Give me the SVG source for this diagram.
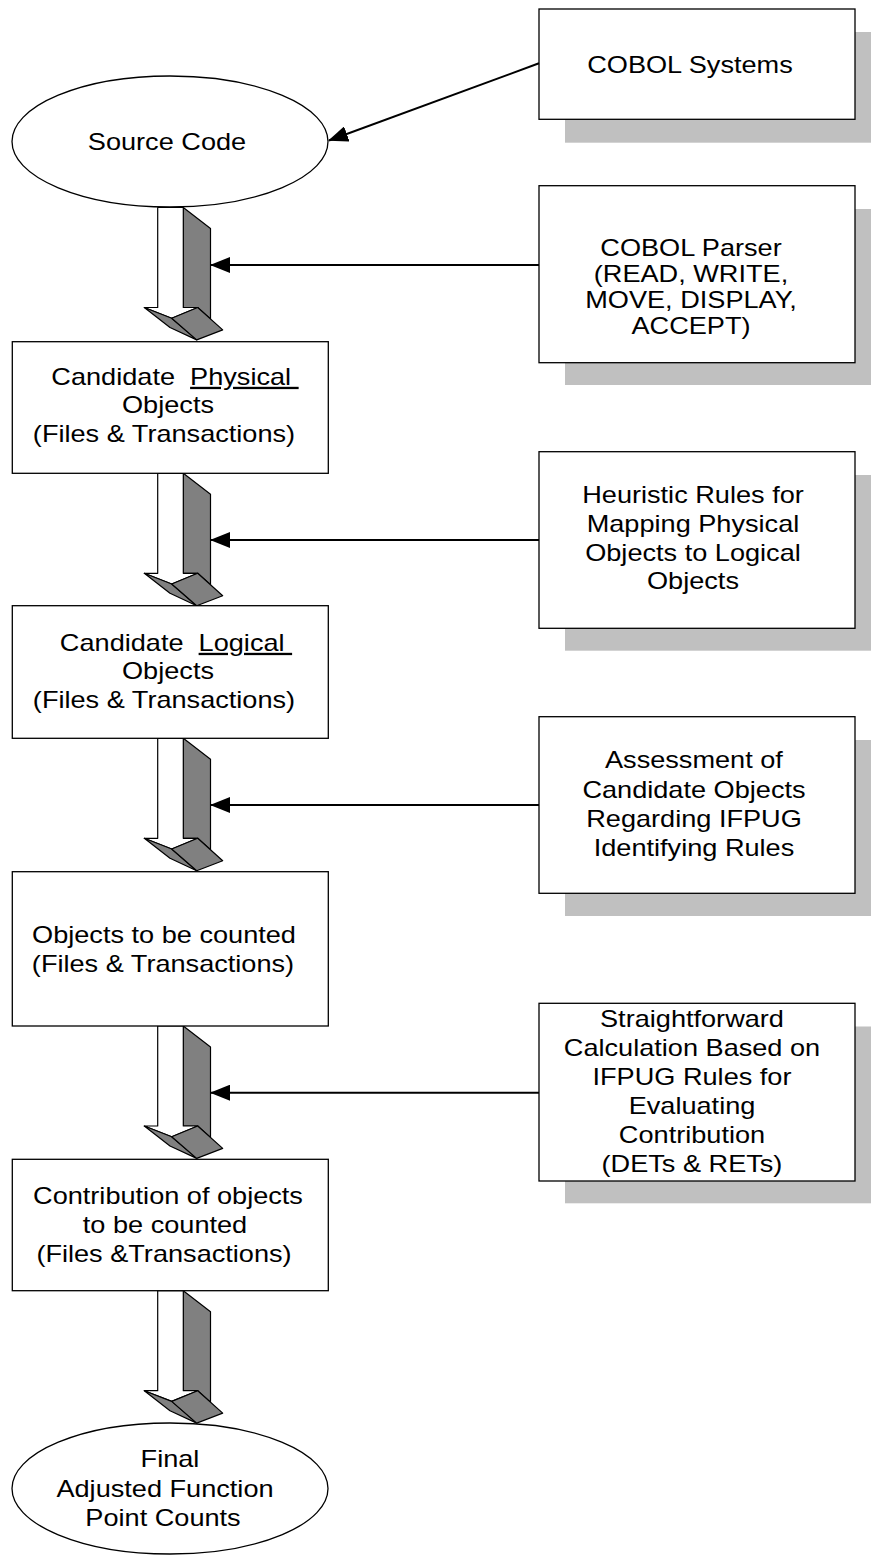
<svg xmlns="http://www.w3.org/2000/svg" width="871" height="1555" viewBox="0 0 871 1555">
<style>
.box{fill:#fff;stroke:#000;stroke-width:1.3}
.shadow{fill:#c0c0c0;stroke:none}
.t{font-family:"Liberation Sans",Arial,sans-serif;font-size:23px;fill:#000;text-anchor:middle;transform-box:fill-box;transform-origin:center;transform:scaleX(1.18)}
.con{stroke:#000;stroke-width:2;fill:none;marker-end:url(#ah)}
.gray{fill:#808080;stroke:#000;stroke-width:1.2;stroke-linejoin:round}
.white{fill:#fff;stroke:#000;stroke-width:1.2;stroke-linejoin:round}
</style>
<defs>
<marker id="ah" viewBox="0 0 20 16" refX="19" refY="8" markerWidth="20" markerHeight="16" markerUnits="userSpaceOnUse" orient="auto">
<path d="M0,0 L20,8 L0,16 z" fill="#000"/>
</marker>
<g id="bigArrow">
<polygon class="gray" points="183.3,0 210.5,21 210.5,111.5 197.7,100 183.3,100"/>
<polygon class="white" points="157.7,0 183.3,0 183.3,100 197.7,100 171.7,110.7 144.3,100 157.7,100"/>
<polygon class="gray" points="144.3,100 171.7,110.7 196.7,132.4 170,120"/>
<polygon class="gray" points="171.7,110.7 197.7,100 222.7,122.4 196.7,132.4"/>
</g>
</defs>

<g id="flow-arrows">
<use href="#bigArrow" y="207.5"/>
<use href="#bigArrow" y="473.3"/>
<use href="#bigArrow" y="738.3"/>
<use href="#bigArrow" y="1026"/>
<use href="#bigArrow" y="1290.7"/>
</g>

<g id="source-code">
<ellipse class="box" cx="170" cy="141.5" rx="158" ry="65.5"/>
<text class="t" x="167" y="150">Source Code</text>
</g>

<g id="candidate-physical">
<rect class="box" x="12.3" y="341.7" width="316" height="131.6"/>
<text class="t" x="175" y="385">Candidate&#160;&#160;<tspan text-decoration="underline">Physical&#160;</tspan></text>
<text class="t" x="168" y="413.5">Objects</text>
<text class="t" x="164" y="442">(Files &amp; Transactions)</text>
</g>

<g id="candidate-logical">
<rect class="box" x="12.3" y="605.7" width="316" height="132.6"/>
<text class="t" x="176" y="651">Candidate&#160;&#160;<tspan text-decoration="underline">Logical&#160;</tspan></text>
<text class="t" x="168" y="679.5">Objects</text>
<text class="t" x="164" y="708">(Files &amp; Transactions)</text>
</g>

<g id="objects-counted">
<rect class="box" x="12.3" y="871.7" width="316" height="154.3"/>
<text class="t" x="164" y="943.5">Objects to be counted</text>
<text class="t" x="163" y="972">(Files &amp; Transactions)</text>
</g>

<g id="contribution">
<rect class="box" x="12.3" y="1159.3" width="316" height="131.4"/>
<text class="t" x="168" y="1204">Contribution of objects</text>
<text class="t" x="165" y="1233">to be counted</text>
<text class="t" x="164" y="1261.7">(Files &amp;Transactions)</text>
</g>

<g id="final-counts">
<ellipse class="box" cx="170" cy="1488.5" rx="158" ry="65.5"/>
<text class="t" x="170" y="1467">Final</text>
<text class="t" x="165" y="1497.5">Adjusted Function</text>
<text class="t" x="163" y="1526.5">Point Counts</text>
</g>

<g id="cobol-systems">
<rect class="shadow" x="565" y="32" width="316" height="110.7"/>
<rect class="box" x="539" y="9" width="316" height="110.3"/>
<text class="t" x="690" y="73">COBOL Systems</text>
</g>

<g id="cobol-parser">
<rect class="shadow" x="565" y="209" width="316" height="176"/>
<rect class="box" x="539" y="185.7" width="316" height="177"/>
<text class="t" x="691" y="256">COBOL Parser</text>
<text class="t" x="691" y="282">(READ, WRITE,</text>
<text class="t" x="691" y="308">MOVE, DISPLAY,</text>
<text class="t" x="691" y="334">ACCEPT)</text>
</g>

<g id="heuristic-rules">
<rect class="shadow" x="565" y="475" width="316" height="175.7"/>
<rect class="box" x="539" y="451.7" width="316" height="176.6"/>
<text class="t" x="693" y="503.5">Heuristic Rules for</text>
<text class="t" x="693" y="532">Mapping Physical</text>
<text class="t" x="693" y="561">Objects to Logical</text>
<text class="t" x="693" y="589">Objects</text>
</g>

<g id="assessment">
<rect class="shadow" x="565" y="740" width="316" height="176"/>
<rect class="box" x="539" y="716.7" width="316" height="176.6"/>
<text class="t" x="694" y="768.5">Assessment of</text>
<text class="t" x="694" y="798">Candidate Objects</text>
<text class="t" x="694" y="827.5">Regarding IFPUG</text>
<text class="t" x="694" y="856.5">Identifying Rules</text>
</g>

<g id="straightforward">
<rect class="shadow" x="565" y="1026.5" width="316" height="176.8"/>
<rect class="box" x="539" y="1003.3" width="316" height="177.7"/>
<text class="t" x="692" y="1027">Straightforward</text>
<text class="t" x="692" y="1056">Calculation Based on</text>
<text class="t" x="692" y="1085">IFPUG Rules for</text>
<text class="t" x="692" y="1114">Evaluating</text>
<text class="t" x="692" y="1143">Contribution</text>
<text class="t" x="692" y="1172">(DETs &amp; RETs)</text>
</g>

<g id="connectors">
<line class="con" x1="539" y1="63.3" x2="329" y2="140.5"/>
<line class="con" x1="539" y1="265" x2="211" y2="265"/>
<line class="con" x1="539" y1="540" x2="211" y2="540"/>
<line class="con" x1="539" y1="805" x2="211" y2="805"/>
<line class="con" x1="539" y1="1092.7" x2="211" y2="1092.7"/>
</g>
</svg>
